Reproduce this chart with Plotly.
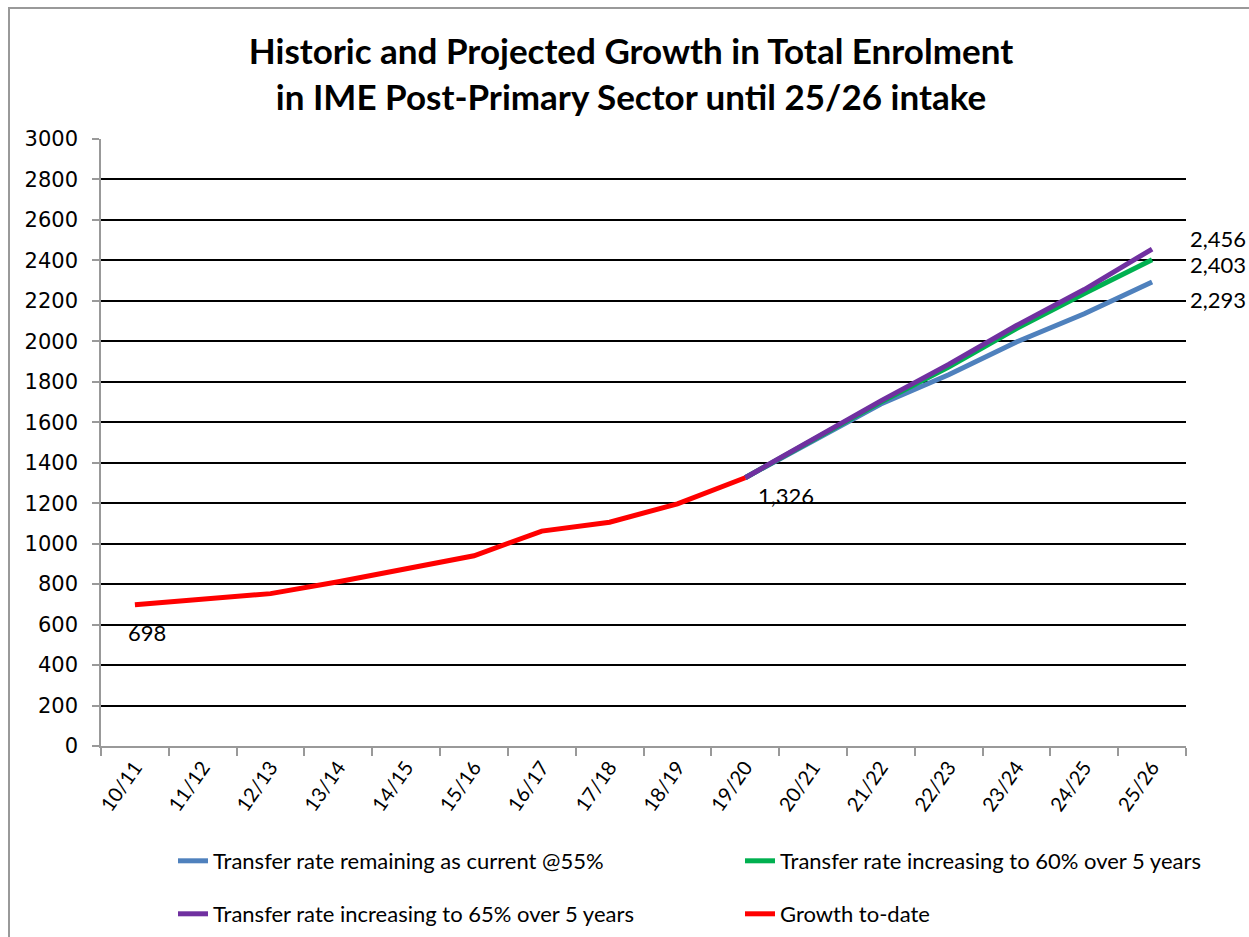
import plotly.graph_objects as go

years = ["10/11", "11/12", "12/13", "13/14", "14/15", "15/16", "16/17", "17/18",
         "18/19", "19/20", "20/21", "21/22", "22/23", "23/24", "24/25", "25/26"]

growth_to_date = [698, 723, 753, 812, 873, 940, 1062, 1106, 1197, 1326,
                  None, None, None, None, None, None]
rate_55 = [None] * 9 + [1326, 1510, 1690, 1835, 1997, 2136, 2293]
rate_60 = [None] * 9 + [1326, 1513, 1700, 1873, 2063, 2236, 2403]
rate_65 = [None] * 9 + [1326, 1516, 1706, 1886, 2078, 2256, 2456]

series_names = ["Transfer rate remaining as current @55%",
                "Transfer rate increasing to 60% over 5 years",
                "Transfer rate increasing to 65% over 5 years",
                "Growth to-date"]
series_colors = ["#4F81BD", "#00B050", "#7030A0", "#FF0000"]

W, H = 1249, 937
L, R, T, B = 101, 1186, 139, 746


def px_x(p):
    return (p - L) / (R - L)


def px_y(p):
    return (B - p) / (B - T)


fig = go.Figure()
data_sets = [rate_55, rate_60, rate_65, growth_to_date]
legend_ids = ["legend", "legend2", "legend3", "legend4"]
for vals, name, col, lg in zip(data_sets, series_names, series_colors, legend_ids):
    fig.add_trace(go.Scatter(
        x=years, y=vals, name=name, mode="lines",
        line=dict(color=col, width=5), connectgaps=False,
        legend=lg, hoverinfo="x+y+name"))

label_font = dict(family="Lato, Open Sans, sans-serif", size=22, color="#000000")
annotations = [
    dict(x=years[0], y=growth_to_date[0], text="698", xshift=12, yshift=-28),
    dict(x=years[9], y=growth_to_date[9], text="1,326", xshift=41, yshift=-18),
    dict(x=years[15], y=rate_65[15], text="2,456", xshift=66, yshift=11),
    dict(x=years[15], y=rate_60[15], text="2,403", xshift=66, yshift=-5),
    dict(x=years[15], y=rate_55[15], text="2,293", xshift=66, yshift=-17),
]
for a in annotations:
    a.update(xref="x", yref="y", showarrow=False, font=label_font,
             xanchor="center", yanchor="middle")

legend_font = dict(family="Lato, Open Sans, sans-serif", size=22, color="#000000")
legend_pos = [(173, 861), (740, 861), (173, 914), (740, 914)]
legends = {}
for lg, (lx, ly) in zip(legend_ids, legend_pos):
    legends[lg] = dict(x=px_x(lx), y=px_y(ly), xanchor="left", yanchor="middle",
                       xref="paper", yref="paper", font=legend_font,
                       bgcolor="rgba(0,0,0,0)", borderwidth=0,
                       orientation="h")

fig.update_layout(
    width=W, height=H,
    margin=dict(l=L, r=W - R, t=T, b=H - B, autoexpand=False),
    paper_bgcolor="white", plot_bgcolor="white",
    showlegend=True,
    title=dict(
        text="<b>Historic and Projected Growth in Total Enrolment<br>"
             "in IME Post-Primary Sector until 25/26 intake</b>",
        x=px_x(631), xref="paper", xanchor="center",
        y=(H - 64) / H, yref="container", yanchor="middle",
        font=dict(family="Lato, Open Sans, sans-serif", size=35, color="#000000")),
    annotations=annotations,
    shapes=[dict(type="rect", xref="paper", yref="paper",
                 x0=px_x(9), x1=px_x(1260), y0=px_y(8), y1=px_y(950),
                 line=dict(color="#999999", width=2), layer="below")],
    **legends,
)

fig.update_xaxes(
    type="category", categoryorder="array", categoryarray=years,
    range=[-0.5, 15.5], autorange=False,
    tickangle=-55, tickson="boundaries",
    ticks="outside", ticklen=8, tickcolor="#999999", tickwidth=1.5,
    showline=True, linecolor="#999999", linewidth=1.5,
    showgrid=False, zeroline=False,
    tickfont=dict(family="Lato, Open Sans, sans-serif", size=20, color="#000000"),
)
fig.update_yaxes(
    range=[0, 3000], autorange=False, dtick=200, tick0=0,
    ticks="outside", ticklen=7, tickcolor="#999999", tickwidth=1.5,
    showline=True, linecolor="#999999", linewidth=1.5,
    showgrid=True, gridcolor="#000000", gridwidth=1.5,
    zeroline=False, ticklabelstandoff=10,
    tickfont=dict(family="DejaVu Sans, Verdana, sans-serif", size=21, color="#000000"),
)

fig.write_html("out.html", config={"displayModeBar": False},
               post_script="document.body.style.margin='0';")
